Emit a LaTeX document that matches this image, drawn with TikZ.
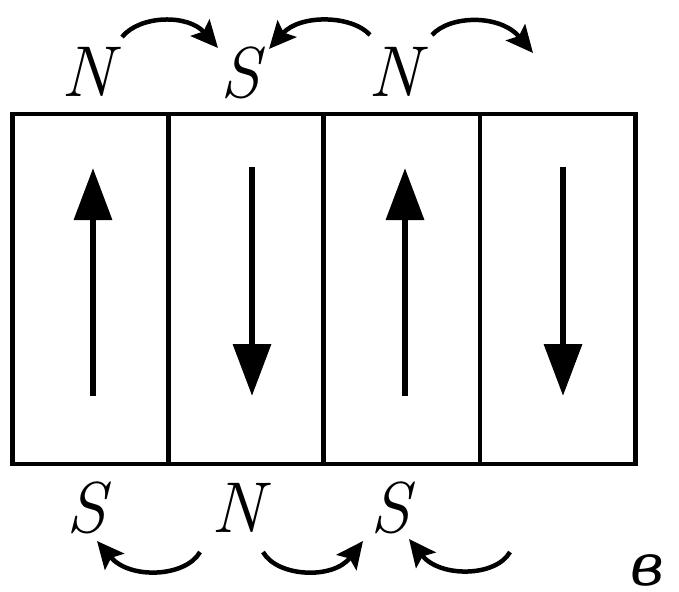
\documentclass[tikz,border=0pt]{standalone}
\usepackage{fontspec}
\newfontfamily\cyrfont{DejaVu Serif}
\usetikzlibrary{arrows.meta}
\begin{document}
\begin{tikzpicture}[x=1pt,y=-1pt,
  pole/.style={font=\fontsize{72}{78}\selectfont\itshape, inner sep=0pt},
  frame/.style={line width=4.5pt},
  field/.style={line width=6.5pt, -{Triangle[length=52pt,width=37pt]}},
  flux/.style={line width=4.5pt, -{Stealth[length=27pt,width=25pt,inset=5pt]}}]
\useasboundingbox (0,0) rectangle (679,591);
% frame
\draw[frame] (12.5,114) rectangle (635.5,464);
\draw[frame] (168.5,114) -- (168.5,464);
\draw[frame] (323.5,114) -- (323.5,464);
\draw[frame] (480,114) -- (480,464);
% field arrows
\draw[field] (93,396) -- (93,168);
\draw[field] (252,167) -- (252,396);
\draw[field] (405,396) -- (405,168);
\draw[field] (563,167) -- (563,396);
% labels
\node[pole] (tn1) at (88,72) {N};
\node[pole] (ts1) at (240,73) {S};
\node[pole] (tn2) at (395,72) {N};
\node[pole] (bs1) at (86,508) {S};
\node[pole] (bn1) at (238,508) {N};
\node[pole] (bs2) at (390,508) {S};
\node[font=\cyrfont\fontsize{58}{64}\selectfont\itshape, inner sep=0pt] (lbl) at (647,570) {в};
% connector end points
\coordinate (a1s) at (122,37);  \coordinate (a1e) at (218,48);
\coordinate (a2s) at (370,35);  \coordinate (a2e) at (269,49);
\coordinate (a3s) at (432,35);  \coordinate (a3e) at (533,53);
\coordinate (b1s) at (200,552); \coordinate (b1e) at (97,541);
\coordinate (b2s) at (263,552); \coordinate (b2e) at (363,541);
\coordinate (b3s) at (510,552); \coordinate (b3e) at (409,539);
% top flux arrows
\draw[flux] (a1s) .. controls (140,15) and (188,14) .. (a1e);
\draw[flux] (a2s) .. controls (352,15) and (300,14) .. (a2e);
\draw[flux] (a3s) .. controls (450,15) and (500,14) .. (a3e);
% bottom flux arrows
\draw[flux] (b1s) .. controls (186,577) and (130,580) .. (b1e);
\draw[flux] (b2s) .. controls (277,577) and (333,580) .. (b2e);
\draw[flux] (b3s) .. controls (496,577) and (440,578) .. (b3e);
\end{tikzpicture}
\end{document}
